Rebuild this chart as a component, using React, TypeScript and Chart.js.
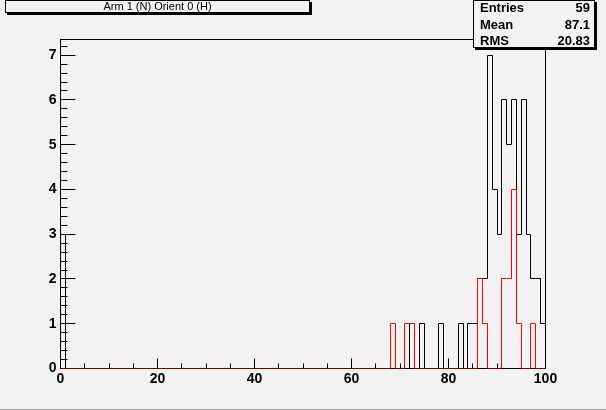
import React, { useEffect, useRef } from "react";
import { Chart, registerables } from "chart.js";

Chart.register(...registerables);

// ---- data ----
const TITLE = "Arm 1 (N) Orient 0 (H)";
const STAT_LABELS = ["Entries", "Mean", "RMS"];
const STAT_VALUES = ["59", "87.1", "20.83"];

const N_BINS = 100;
const X_MIN = 0;
const X_MAX = 100;
const Y_MAX = 7.35;

// black histogram: non-empty bins (bin index = left edge) and their counts
const blackBins = [0, 72, 74, 78, 82, 84, 85, 86, 87, 88, 89, 90, 91, 92, 93, 94, 95, 96, 97, 98, 99];
const blackCounts = [3, 1, 1, 1, 1, 1, 1, 2, 2, 7, 4, 3, 6, 5, 6, 3, 6, 3, 2, 2, 1];

// red histogram
const redBins = [68, 71, 72, 86, 87, 91, 92, 93, 94, 97];
const redCounts = [1, 1, 1, 2, 1, 2, 2, 4, 1, 1];

const xTickLabels = [0, 20, 40, 60, 80, 100];
const yTickLabels = [0, 1, 2, 3, 4, 5, 6, 7];

const BG = "#f2f2f2";
const FONT = "'Liberation Sans', Arial, Helvetica, sans-serif";

function stepPoints(bins: number[], counts: number[]) {
  const h = new Array(N_BINS).fill(0);
  bins.forEach((b, i) => (h[b] = counts[i]));
  const pts: { x: number; y: number }[] = [{ x: X_MIN, y: 0 }];
  for (let k = 0; k < N_BINS; k++) pts.push({ x: k, y: h[k] });
  pts.push({ x: X_MAX, y: h[N_BINS - 1] });
  pts.push({ x: X_MAX, y: 0 });
  return pts;
}

const snap = (v: number) => Math.round(v - 0.5) + 0.5;

const rootPlugin = {
  id: "rootStyle",
  beforeDraw(chart: any) {
    const ctx = chart.ctx;
    ctx.save();
    ctx.fillStyle = BG;
    ctx.fillRect(0, 0, chart.width, chart.height);
    // bottom canvas border
    ctx.strokeStyle = "#a0a0a0";
    ctx.lineWidth = 1;
    ctx.beginPath();
    ctx.moveTo(0, chart.height - 0.5);
    ctx.lineTo(chart.width, chart.height - 0.5);
    ctx.stroke();
    ctx.restore();
  },
  beforeDatasetsDraw(chart: any) {
    // snap points to pixel grid (like ROOT)
    chart.data.datasets.forEach((_: any, i: number) => {
      const meta = chart.getDatasetMeta(i);
      meta.data.forEach((p: any) => {
        p.x = snap(p.x);
        p.y = snap(p.y);
      });
    });
    const { ctx, chartArea: a, scales } = chart;
    const xs = scales.x;
    const ys = scales.y;
    ctx.save();
    ctx.strokeStyle = "#000";
    ctx.lineWidth = 1;
    ctx.strokeRect(snap(a.left), snap(a.top), Math.round(a.right - a.left), Math.round(a.bottom - a.top));
    ctx.beginPath();
    // y ticks (inside)
    for (let i = 0; i * 0.2 <= Y_MAX + 1e-9; i++) {
      const v = i * 0.2;
      const y = snap(ys.getPixelForValue(v));
      const len = i % 5 === 0 ? 15 : 7;
      ctx.moveTo(a.left, y);
      ctx.lineTo(a.left + len, y);
    }
    // x ticks (inside)
    for (let v = X_MIN; v <= X_MAX; v += 5) {
      const x = snap(xs.getPixelForValue(v));
      const len = v % 20 === 0 ? 10 : 5;
      ctx.moveTo(x, a.bottom);
      ctx.lineTo(x, a.bottom - len);
    }
    ctx.stroke();
    ctx.restore();
  },
  afterDraw(chart: any) {
    const ctx = chart.ctx;
    ctx.save();
    ctx.lineWidth = 1;
    // title box
    const tb = { x: 5, y: 0, w: 305, h: 13 };
    ctx.fillStyle = "#000";
    ctx.fillRect(tb.x + 2, tb.y + 2, tb.w, tb.h);
    ctx.fillStyle = BG;
    ctx.fillRect(tb.x, tb.y, tb.w, tb.h);
    ctx.strokeStyle = "#000";
    ctx.strokeRect(tb.x + 0.5, tb.y + 0.5, tb.w - 1, tb.h - 1);
    ctx.fillStyle = "#000";
    ctx.font = `11px ${FONT}`;
    ctx.textAlign = "center";
    ctx.textBaseline = "middle";
    ctx.fillText(TITLE, tb.x + tb.w / 2, tb.y + tb.h / 2 + 0.5);

    // stats box
    const sb = { x: 473, y: 0, w: 122, h: 48 };
    ctx.fillStyle = "#000";
    ctx.fillRect(sb.x + 2, sb.y + 2, sb.w, sb.h);
    ctx.fillStyle = BG;
    ctx.fillRect(sb.x, sb.y, sb.w, sb.h);
    ctx.strokeRect(sb.x + 0.5, sb.y + 0.5, sb.w - 1, sb.h - 1);
    ctx.fillStyle = "#000";
    ctx.font = `bold 13px ${FONT}`;
    ctx.textBaseline = "alphabetic";
    STAT_LABELS.forEach((lab, i) => {
      const yb = 12 + i * 16.7;
      ctx.textAlign = "left";
      ctx.fillText(lab, sb.x + 7, yb);
      ctx.textAlign = "right";
      ctx.fillText(STAT_VALUES[i], sb.x + sb.w - 5, yb);
    });
    ctx.restore();
  },
};

export default function App() {
  const ref = useRef<HTMLCanvasElement>(null);

  useEffect(() => {
    document.body.style.margin = "0";
    const canvas = ref.current!;
    const chart = new Chart(canvas, {
      type: "line",
      data: {
        datasets: [
          {
            label: "red",
            data: stepPoints(redBins, redCounts),
            borderColor: "#ff0000",
            borderWidth: 1,
            pointRadius: 0,
            stepped: true,
            tension: 0,
            fill: false,
          },
          {
            label: "black",
            data: stepPoints(blackBins, blackCounts),
            borderColor: "#000000",
            borderWidth: 1,
            pointRadius: 0,
            stepped: true,
            tension: 0,
            fill: false,
          },
        ],
      },
      options: {
        responsive: false,
        animation: false,
        devicePixelRatio: 1,
        parsing: false as any,
        normalized: true,
        layout: { padding: { left: 0, right: 60.5, top: 39.5, bottom: 0 } },
        plugins: {
          legend: { display: false },
          tooltip: { enabled: false },
          title: { display: false },
        },
        scales: {
          x: {
            type: "linear",
            min: X_MIN,
            max: X_MAX,
            grid: { display: false, drawTicks: false },
            border: { display: false },
            afterBuildTicks: (s: any) => {
              s.ticks = xTickLabels.map((v) => ({ value: v }));
            },
            afterFit: (s: any) => {
              s.height = 41.5;
            },
            ticks: {
              color: "#000",
              font: { family: FONT, size: 14, weight: "bold" },
              padding: 2,
              maxRotation: 0,
              autoSkip: false,
            },
          },
          y: {
            type: "linear",
            min: 0,
            max: Y_MAX,
            grid: { display: false, drawTicks: false },
            border: { display: false },
            afterBuildTicks: (s: any) => {
              s.ticks = yTickLabels.map((v) => ({ value: v }));
            },
            afterFit: (s: any) => {
              s.width = 60.5;
            },
            ticks: {
              color: "#000",
              font: { family: FONT, size: 14, weight: "bold" },
              padding: 4,
              autoSkip: false,
            },
          },
        },
      },
      plugins: [rootPlugin],
    });
    return () => chart.destroy();
  }, []);

  return (
    <div style={{ position: "fixed", left: 0, top: 0, width: 606, height: 410 }}>
      <canvas ref={ref} width={606} height={410} style={{ display: "block", width: 606, height: 410 }} />
    </div>
  );
}
